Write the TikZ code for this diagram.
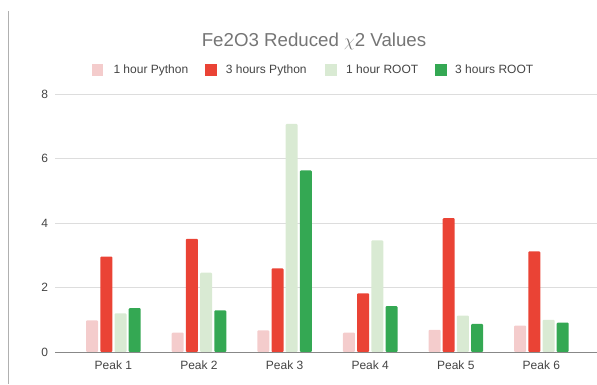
\documentclass[tikz,border=0pt]{standalone}
\usepackage{fontspec}
\setmainfont{Liberation Sans}
\usepackage{amsmath}
\usepackage{tikz}

\definecolor{pyone}{HTML}{F4CCCC}
\definecolor{pythree}{HTML}{EA4335}
\definecolor{rtone}{HTML}{D9EAD3}
\definecolor{rtthree}{HTML}{34A853}
\definecolor{gridgray}{HTML}{DDDDDD}
\definecolor{axisgray}{HTML}{888888}
\definecolor{framegray}{HTML}{B0B0B0}
\definecolor{labelgray}{HTML}{444444}
\definecolor{titlegray}{HTML}{757575}

\begin{document}
\begin{tikzpicture}
	[
		x=1pt, y=1pt,
		lbl/.style = {inner sep=0, text=labelgray, font=\fontsize{12}{14}\selectfont},
		key/.style = {minimum size=11.5pt, inner sep=0, draw=none},
		bar/.style = {rounded corners=1pt},
		gridline/.style = {draw=gridgray, line width=1pt},
	]
	\useasboundingbox (0,0) rectangle (597,384);

	% frame edge
	\coordinate (ftop) at (8,373);
	\coordinate (fbot) at (8,0);
	\draw[draw=framegray, line width=1pt] (ftop) -- (fbot);

	% title
	\node[inner sep=0, anchor=base, text=titlegray, font=\fontsize{18.7}{22}\selectfont]
		(title) at (314,337.3) {Fe2O3 Reduced $\chi$2 Values};

	% legend
	\node[key, fill=pyone]   (kpa) at ( 97.7,314.2) {};
	\node[key, fill=pythree] (kpb) at (210.8,314.2) {};
	\node[key, fill=rtone]   (kra) at (330.8,314.2) {};
	\node[key, fill=rtthree] (krb) at (440.8,314.2) {};
	\node[lbl, anchor=base west] (tpa) at (113.3,310.7) {1 hour Python};
	\node[lbl, anchor=base west] (tpb) at (225.7,310.7) {3 hours Python};
	\node[lbl, anchor=base west] (tra) at (346.0,310.7) {1 hour ROOT};
	\node[lbl, anchor=base west] (trb) at (455.0,310.7) {3 hours ROOT};

	% grid and value labels
	\foreach \v in {2,4,6,8}
	{
		\coordinate (gl\v) at (55,{32+32.25*\v});
		\coordinate (gr\v) at (597,{32+32.25*\v});
		\draw[gridline] (gl\v) -- (gr\v);
	}
	\foreach \v in {0,2,4,6,8}
	\node[lbl, anchor=base east] (val\v) at (48.3,{27.7+32.25*\v}) {\v};

	% bars
	\foreach \k/\a/\b/\c/\d in {1/0.98/2.96/1.2/1.36, 2/0.6/3.51/2.46/1.29, 3/0.67/2.59/7.07/5.63,
		4/0.6/1.82/3.46/1.42, 5/0.69/4.15/1.13/0.87, 6/0.82/3.12/1.0/0.91}
	{
		\pgfmathsetmacro{\cx}{113.4+85.6*(\k-1)}
		\fill[bar, pyone]   ({\cx-27.3},32) rectangle ++(12,{32.25*\a});
		\fill[bar, pythree] ({\cx-13.1},32) rectangle ++(12,{32.25*\b});
		\fill[bar, rtone]   ({\cx+1.1},32) rectangle ++(12,{32.25*\c});
		\fill[bar, rtthree] ({\cx+15.3},32) rectangle ++(12,{32.25*\d});
		\node[lbl, anchor=base] (peak\k) at (\cx,14.7) {Peak \k};
	}

	% axis
	\coordinate (al) at (55,32);
	\coordinate (ar) at (597,32);
	\draw[draw=axisgray, line width=1pt] (al) -- (ar);

\end{tikzpicture}
\end{document}
